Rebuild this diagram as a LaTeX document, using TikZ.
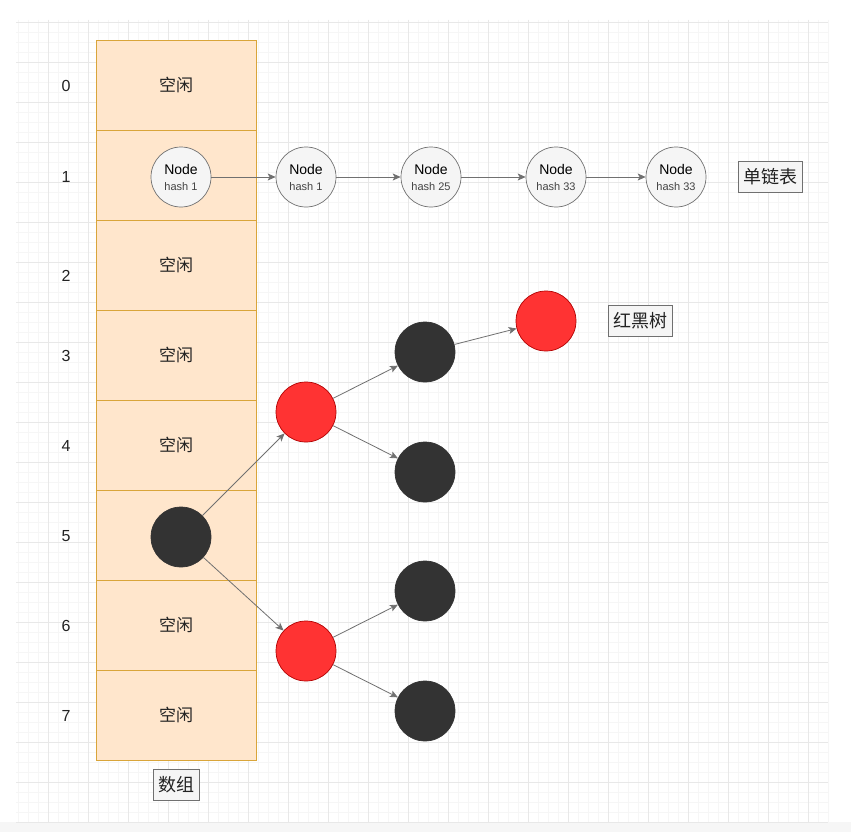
\documentclass[tikz,border=0pt]{standalone}
\usepackage{fontspec}
\setmainfont{Liberation Sans}
\newfontfamily\cjk{Noto Sans CJK SC}
\usetikzlibrary{arrows.meta}
\definecolor{cellfill}{HTML}{FFE6CC}
\definecolor{cellline}{HTML}{D9A53A}
\definecolor{nodefill}{HTML}{F5F5F5}
\definecolor{nodeline}{HTML}{707070}
\definecolor{redfill}{HTML}{FF3333}
\definecolor{redline}{HTML}{B20000}
\definecolor{blackfill}{HTML}{333333}
\definecolor{gridmajor}{HTML}{E8E8E8}
\definecolor{gridminor}{HTML}{F6F6F6}
\definecolor{textcol}{HTML}{222222}
\begin{document}
\begin{tikzpicture}[x=1pt,y=-1pt,
  cellbox/.style={draw=cellline,fill=cellfill,line width=0.8pt,minimum width=160pt,minimum height=90pt,inner sep=0pt,font=\cjk\fontsize{17}{19}\selectfont,text=textcol},
  idx/.style={font=\fontsize{16}{18}\selectfont,text=textcol},
  listnode/.style={circle,draw=nodeline,fill=nodefill,line width=0.7pt,minimum size=60pt,inner sep=0pt,align=center,text=black},
  rednode/.style={circle,draw=redline,fill=redfill,line width=0.7pt,minimum size=60pt,inner sep=0pt},
  blacknode/.style={circle,draw=blackfill,fill=blackfill,line width=0.7pt,minimum size=60pt,inner sep=0pt},
  tag/.style={draw=nodeline,fill=nodefill,line width=0.7pt,minimum height=31pt,inner xsep=5pt,font=\cjk\fontsize{18}{20}\selectfont,text=textcol},
  conn/.style={draw=nodeline,line width=0.8pt,-{Stealth[length=8pt,width=7pt,inset=2pt]}}
]
\useasboundingbox (0,0) rectangle (851,832);
\fill[white] (0,0) rectangle (851,832);
\fill[gridminor] (0,822) rectangle (851,832);
% grid
\foreach \x in {18,28,...,828} \draw[gridminor,line width=0.4pt] (\x,20) -- (\x,822);
\foreach \y in {22,32,...,822} \draw[gridminor,line width=0.4pt] (16,\y) -- (828,\y);
\foreach \x in {48,88,...,808} \draw[gridmajor,line width=0.7pt] (\x,20) -- (\x,822);
\foreach \y in {22,62,...,802} \draw[gridmajor,line width=0.7pt] (16,\y) -- (828,\y);
\draw[gridmajor,line width=0.7pt] (16,822) -- (828,822);
% array cells
\node[cellbox] (c0) at (176,85) {空闲};
\node[cellbox] (c1) at (176,175) {};
\node[cellbox] (c2) at (176,265) {空闲};
\node[cellbox] (c3) at (176,355) {空闲};
\node[cellbox] (c4) at (176,445) {空闲};
\node[cellbox] (c5) at (176,535) {};
\node[cellbox] (c6) at (176,625) {空闲};
\node[cellbox] (c7) at (176,715) {空闲};
% indices
\node[idx] (i0) at (66,86) {0};
\node[idx] (i1) at (66,177) {1};
\node[idx] (i2) at (66,276) {2};
\node[idx] (i3) at (66,356) {3};
\node[idx] (i4) at (66,446) {4};
\node[idx] (i5) at (66,536) {5};
\node[idx] (i6) at (66,626) {6};
\node[idx] (i7) at (66,716) {7};
% linked list
\newcommand{\nodetext}[1]{{\fontsize{14}{16}\selectfont Node}\\[4pt]{\fontsize{11}{13}\selectfont\color{textcol!85} #1}}
\node[listnode] (n1) at (181,177) {\nodetext{hash 1}};
\node[listnode] (n2) at (306,177) {\nodetext{hash 1}};
\node[listnode] (n3) at (431,177) {\nodetext{hash 25}};
\node[listnode] (n4) at (556,177) {\nodetext{hash 33}};
\node[listnode] (n5) at (676,177) {\nodetext{hash 33}};
\draw[conn] (n1) -- (n2);
\draw[conn] (n2) -- (n3);
\draw[conn] (n3) -- (n4);
\draw[conn] (n4) -- (n5);
\node[tag] (ll) at (770,177) {单链表};
% red-black tree
\node[blacknode] (r) at (181,537) {};
\node[rednode] (a) at (306,412) {};
\node[rednode] (b) at (306,651) {};
\node[blacknode] (a1) at (425,352) {};
\node[blacknode] (a2) at (425,472) {};
\node[blacknode] (b1) at (425,591) {};
\node[blacknode] (b2) at (425,711) {};
\node[rednode] (a11) at (546,321) {};
\draw[conn] (r) -- (a);
\draw[conn] (r) -- (b);
\draw[conn] (a) -- (a1);
\draw[conn] (a) -- (a2);
\draw[conn] (b) -- (b1);
\draw[conn] (b) -- (b2);
\draw[conn] (a1) -- (a11);
\node[tag] (rb) at (640,321) {红黑树};
\node[tag] (arr) at (176,785) {数组};
\end{tikzpicture}
\end{document}
